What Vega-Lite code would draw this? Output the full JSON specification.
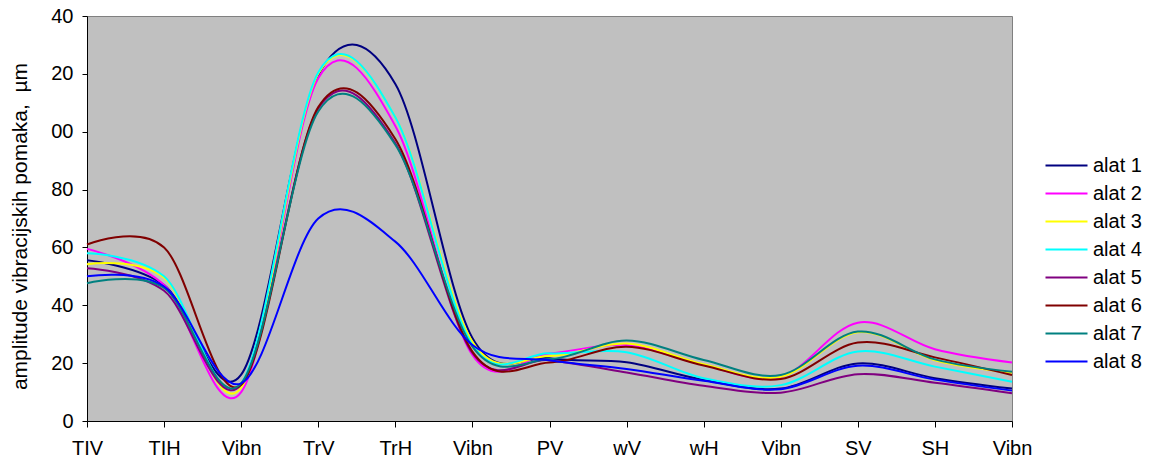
{
  "$schema": "https://vega.github.io/schema/vega-lite/v6.json",
  "width": 925,
  "height": 405,
  "autosize": {"type": "none"},
  "padding": {"left": 87, "top": 16, "right": 140, "bottom": 42},
  "background": "white",
  "config": {
    "font": "Liberation Sans",
    "view": {"fill": "#C0C0C0", "stroke": "#808080", "strokeWidth": 1},
    "axis": {"grid": false, "domainColor": "black", "tickColor": "black", "labelColor": "black", "titleColor": "black", "labelFont": "Liberation Sans", "titleFont": "Liberation Sans", "labelFontSize": 20, "titleFontSize": 21, "titleFontWeight": "normal"}
  },
  "data": {"values": [
    {"tocka": "TIV", "alat 1": 55.6, "alat 2": 59.5, "alat 3": 54.2, "alat 4": 58, "alat 5": 52.8, "alat 6": 61, "alat 7": 47.6, "alat 8": 50},
    {"tocka": "TIH", "alat 1": 47, "alat 2": 47, "alat 3": 49.5, "alat 4": 50, "alat 5": 45, "alat 6": 60, "alat 7": 46, "alat 8": 46.5},
    {"tocka": "Vibn 1", "alat 1": 16, "alat 2": 10, "alat 3": 11.5, "alat 4": 13, "alat 5": 12.5, "alat 6": 12.5, "alat 7": 13, "alat 8": 13},
    {"tocka": "TrV", "alat 1": 119.5, "alat 2": 118.5, "alat 3": 120, "alat 4": 120.5, "alat 5": 108, "alat 6": 108.5, "alat 7": 107, "alat 8": 70},
    {"tocka": "TrH", "alat 1": 116.5, "alat 2": 102, "alat 3": 105, "alat 4": 105, "alat 5": 96, "alat 6": 97.5, "alat 7": 95.5, "alat 8": 62},
    {"tocka": "Vibn 2", "alat 1": 28.7, "alat 2": 22.8, "alat 3": 27.4, "alat 4": 26.3, "alat 5": 23.5, "alat 6": 24, "alat 7": 25.7, "alat 8": 26.3},
    {"tocka": "PV", "alat 1": 21.7, "alat 2": 23.4, "alat 3": 22.5, "alat 4": 23.4, "alat 5": 21, "alat 6": 20.2, "alat 7": 21.4, "alat 8": 21},
    {"tocka": "wV", "alat 1": 20.3, "alat 2": 26.3, "alat 3": 26.8, "alat 4": 23.8, "alat 5": 16.8, "alat 6": 25.7, "alat 7": 27.8, "alat 8": 18},
    {"tocka": "wH", "alat 1": 14.2, "alat 2": 19.4, "alat 3": 19.6, "alat 4": 14.8, "alat 5": 12.2, "alat 6": 19.2, "alat 7": 21.1, "alat 8": 13.9},
    {"tocka": "Vibn 3", "alat 1": 11.2, "alat 2": 15.2, "alat 3": 15.3, "alat 4": 12.4, "alat 5": 9.8, "alat 6": 14.5, "alat 7": 15.9, "alat 8": 11},
    {"tocka": "SV", "alat 1": 19.9, "alat 2": 34, "alat 3": 30.7, "alat 4": 24, "alat 5": 16.2, "alat 6": 27.1, "alat 7": 30.9, "alat 8": 19.1},
    {"tocka": "SH", "alat 1": 14.8, "alat 2": 24.8, "alat 3": 21, "alat 4": 18.8, "alat 5": 13.2, "alat 6": 22, "alat 7": 21.3, "alat 8": 14.3},
    {"tocka": "Vibn 4", "alat 1": 11.2, "alat 2": 20.2, "alat 3": 16.7, "alat 4": 13.6, "alat 5": 9.6, "alat 6": 15.9, "alat 7": 17, "alat 8": 10.5}
  ]},
  "transform": [
    {"fold": ["alat 1", "alat 2", "alat 3", "alat 4", "alat 5", "alat 6", "alat 7", "alat 8"], "as": ["alat", "amplituda"]}
  ],
  "mark": {"type": "line", "interpolate": "cardinal", "tension": 0, "strokeWidth": 2, "clip": false},
  "encoding": {
    "x": {
      "field": "tocka", "type": "ordinal",
      "sort": ["TIV", "TIH", "Vibn 1", "TrV", "TrH", "Vibn 2", "PV", "wV", "wH", "Vibn 3", "SV", "SH", "Vibn 4"],
      "scale": {"type": "point", "padding": 0},
      "axis": {"title": null, "labelAngle": 0, "labelExpr": "split(datum.label, ' ')[0]", "tickSize": 6, "labelPadding": 11, "domainWidth": 1}
    },
    "y": {
      "field": "amplituda", "type": "quantitative",
      "scale": {"domain": [0, 140], "nice": false},
      "axis": {"title": "amplitude vibracijskih pomaka, \u00a0µm", "values": [0, 20, 40, 60, 80, 100, 120, 140], "labelExpr": "datum.value >= 100 ? substring(datum.label, 1) : datum.label", "tickSize": 5, "labelPadding": 9, "titlePadding": 20, "titleY": 210}
    },
    "color": {
      "field": "alat", "type": "nominal",
      "scale": {"domain": ["alat 1", "alat 2", "alat 3", "alat 4", "alat 5", "alat 6", "alat 7", "alat 8"], "range": ["#000080", "#FF00FF", "#FFFF00", "#00FFFF", "#800080", "#800000", "#008080", "#0000FF"]},
      "legend": {"title": null, "orient": "none", "legendX": 968, "legendY": 138, "symbolType": "M-2,0H2", "symbolSize": 441, "symbolStrokeWidth": 2, "symbolFillColor": "transparent", "labelFontSize": 20, "labelFont": "Liberation Sans", "labelColor": "black", "labelOffset": 15, "rowPadding": 6}
    }
  }
}
